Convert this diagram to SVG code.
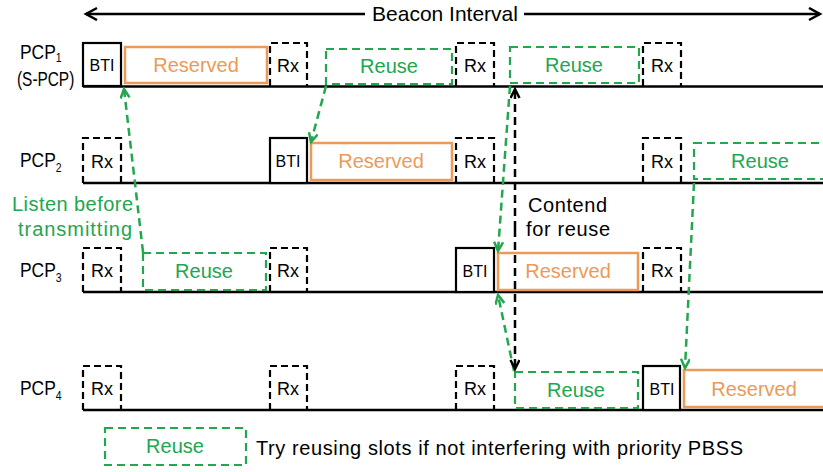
<svg xmlns="http://www.w3.org/2000/svg" width="823" height="472" viewBox="0 0 823 472">
<style>
text{font-family:"Liberation Sans",Arial,sans-serif;fill:#000}
.base{stroke:#000;stroke-width:2.5;fill:none}
.bti{stroke:#000;stroke-width:2.2;fill:#fff}
.rx{stroke:#000;stroke-width:2.2;fill:none;stroke-dasharray:7,4}
.res{stroke:#EC9A57;stroke-width:2.5;fill:#fff}
.reuse{stroke:#22A64E;stroke-width:2.2;fill:none;stroke-dasharray:8,5}
.tb{font-size:16px;text-anchor:middle}
.tr{font-size:18px;text-anchor:middle}
.to{font-size:20px;fill:#EC9A57;text-anchor:middle}
.tg{font-size:20px;fill:#22A64E;text-anchor:middle}
.lab{font-size:20px}
.sub{font-size:12px}
.gc{stroke:#22A64E;stroke-width:2.5;fill:none;stroke-dasharray:8,5}
.kc{stroke:#000;stroke-width:2.5;fill:none;stroke-dasharray:8,5}
</style>
<defs>
<marker id="ag" markerUnits="userSpaceOnUse" markerWidth="14" markerHeight="14" refX="10" refY="5" orient="auto">
<path d="M1,0.5 L10,5 L1,9.5" fill="none" stroke="#22A64E" stroke-width="2.5"/>
</marker>
<marker id="ak" markerUnits="userSpaceOnUse" markerWidth="14" markerHeight="14" refX="10" refY="5" orient="auto">
<path d="M1,0.5 L10,5 L1,9.5" fill="none" stroke="#000" stroke-width="2.5"/>
</marker>
<marker id="ab" markerUnits="userSpaceOnUse" markerWidth="16" markerHeight="16" refX="12" refY="7" orient="auto">
<path d="M1,1 L12,7 L1,13" fill="none" stroke="#000" stroke-width="2.5"/>
</marker>
</defs>

<g id="beacon">
<line x1="365" y1="14" x2="86" y2="14" class="base" marker-end="url(#ab)"/>
<line x1="524" y1="14" x2="820" y2="14" class="base" marker-end="url(#ab)"/>
<text x="445" y="21" font-size="21" text-anchor="middle">Beacon Interval</text>
</g>

<g id="pcp1">
<text transform="translate(20,59) scale(0.87,1)" class="lab">PCP<tspan class="sub" dy="3">1</tspan></text>
<text transform="translate(17,86) scale(0.77,1)" class="lab">(S-PCP)</text>
<line x1="83" y1="86.5" x2="823" y2="86.5" class="base"/>
<rect x="83" y="43" width="38" height="43" class="bti"/>
<text x="102" y="71" class="tb">BTI</text>
<rect x="125" y="47" width="142" height="36" class="res"/>
<text x="196" y="72" class="to">Reserved</text>
<path d="M270,86 V43 H307 V86" class="rx"/>
<text x="288" y="72" class="tr">Rx</text>
<rect x="326" y="49" width="126" height="35" class="reuse"/>
<text x="389" y="73" class="tg">Reuse</text>
<path d="M456,86 V43 H494 V86" class="rx"/>
<text x="475" y="72" class="tr">Rx</text>
<rect x="510" y="47" width="129" height="36" class="reuse"/>
<text x="574" y="72" class="tg">Reuse</text>
<path d="M643,86 V43 H681 V86" class="rx"/>
<text x="662" y="72" class="tr">Rx</text>
</g>

<g id="pcp2">
<text transform="translate(20,167) scale(0.87,1)" class="lab">PCP<tspan class="sub" dy="5">2</tspan></text>
<line x1="83" y1="183" x2="823" y2="183" class="base"/>
<path d="M83,183 V138 H121 V183" class="rx"/>
<text x="102" y="168" class="tr">Rx</text>
<rect x="270" y="138" width="37" height="45" class="bti"/>
<text x="288" y="167" class="tb">BTI</text>
<rect x="311" y="143" width="141" height="37" class="res"/>
<text x="381" y="168" class="to">Reserved</text>
<path d="M456,183 V138 H494 V183" class="rx"/>
<text x="475" y="168" class="tr">Rx</text>
<path d="M643,183 V138 H681 V183" class="rx"/>
<text x="662" y="168" class="tr">Rx</text>
<rect x="694" y="143" width="140" height="36" class="reuse"/>
<text x="760" y="168" class="tg">Reuse</text>
</g>

<g id="pcp3">
<text transform="translate(20,277) scale(0.87,1)" class="lab">PCP<tspan class="sub" dy="5">3</tspan></text>
<line x1="83" y1="292" x2="823" y2="292" class="base"/>
<path d="M83,292 V248 H121 V292" class="rx"/>
<text x="102" y="277" class="tr">Rx</text>
<rect x="143" y="253" width="123" height="37" class="reuse"/>
<text x="204" y="278" class="tg">Reuse</text>
<path d="M270,292 V248 H307 V292" class="rx"/>
<text x="288" y="277" class="tr">Rx</text>
<rect x="456" y="248" width="38" height="44" class="bti"/>
<text x="475" y="277" class="tb">BTI</text>
<rect x="498" y="253" width="140" height="37" class="res"/>
<text x="568" y="278" class="to">Reserved</text>
<path d="M643,292 V248 H681 V292" class="rx"/>
<text x="662" y="277" class="tr">Rx</text>
</g>

<g id="pcp4">
<text transform="translate(20,395) scale(0.87,1)" class="lab">PCP<tspan class="sub" dy="5">4</tspan></text>
<line x1="83" y1="410" x2="823" y2="410" class="base"/>
<path d="M83,410 V366 H121 V410" class="rx"/>
<text x="102" y="395" class="tr">Rx</text>
<path d="M270,410 V366 H307 V410" class="rx"/>
<text x="288" y="395" class="tr">Rx</text>
<path d="M456,410 V366 H494 V410" class="rx"/>
<text x="475" y="395" class="tr">Rx</text>
<rect x="515" y="372" width="123" height="36" class="reuse"/>
<text x="576" y="397" class="tg">Reuse</text>
<rect x="643" y="366" width="37" height="44" class="bti"/>
<text x="662" y="395" class="tb">BTI</text>
<rect x="684" y="370" width="150" height="37" class="res"/>
<text x="754" y="396" class="to">Reserved</text>
</g>

<g id="notes">
<text x="12" y="211" font-size="20" style="fill:#22A64E" textLength="121">Listen before</text>
<text x="18" y="236" font-size="20" style="fill:#22A64E" textLength="114">transmitting</text>
<text x="528" y="212" font-size="20" textLength="79">Contend</text>
<text x="526" y="236" font-size="20" textLength="84">for reuse</text>
</g>

<g id="legend">
<rect x="105" y="428" width="141" height="37" class="reuse"/>
<text x="175" y="453" class="tg">Reuse</text>
<text x="256" y="455" font-size="20" textLength="487">Try reusing slots if not interfering with priority PBSS</text>
</g>

<g id="connectors">
<line x1="143" y1="252" x2="124" y2="89" class="gc" marker-end="url(#ag)"/>
<line x1="326" y1="86" x2="311" y2="142" class="gc" marker-end="url(#ag)"/>
<line x1="510" y1="86" x2="498" y2="251" class="gc" marker-end="url(#ag)"/>
<line x1="514" y1="371" x2="498" y2="295" class="gc" marker-end="url(#ag)"/>
<line x1="694" y1="183" x2="685" y2="368" class="gc" marker-end="url(#ag)"/>
<line x1="515" y1="229" x2="515" y2="89" class="kc" marker-end="url(#ak)"/>
<line x1="515" y1="229" x2="515" y2="369" class="kc" marker-end="url(#ak)"/>
</g>
</svg>
